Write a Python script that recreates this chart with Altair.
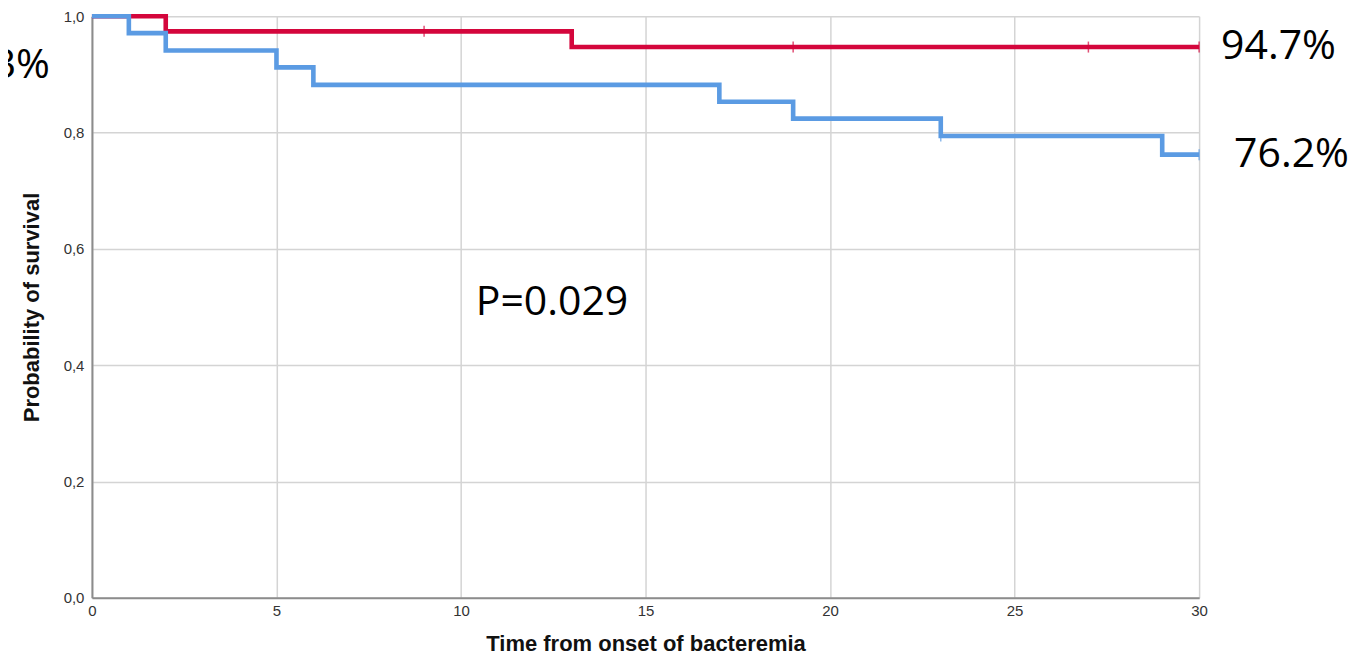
import altair as alt
import pandas as pd

# Kaplan-Meier step data (time, survival)
red_time = [0, 2, 13, 30]
red_surv = [1.0, 0.974, 0.947, 0.947]
blue_time = [0, 1, 2, 5, 6, 17, 19, 23, 29, 30]
blue_surv = [1.0, 0.971, 0.941, 0.912, 0.882, 0.853, 0.824, 0.794, 0.762, 0.762]

# censored observations
red_cens_time = [9, 19, 27, 30]
red_cens_surv = [0.974, 0.947, 0.947, 0.947]
blue_cens_time = [23, 30]
blue_cens_surv = [0.794, 0.762]

# annotations
ann_text = ["94.7%", "76.2%", "P=0.029", "88.3%"]
ann_x = [30, 30, 10.4, 0]
ann_y = [0.947, 0.762, 0.507, 0.914]
ann_dx = [22, 35, 0, -42]
ann_align = ["left", "left", "left", "right"]

x_ticks = [0, 5, 10, 15, 20, 25, 30]
y_ticks = [0.0, 0.2, 0.4, 0.6, 0.8, 1.0]

RED = "#d4063c"
BLUE = "#5b9be3"

curves = pd.concat([
    pd.DataFrame({"t": red_time, "s": red_surv, "g": "red"}),
    pd.DataFrame({"t": blue_time, "s": blue_surv, "g": "blue"}),
])
cens = pd.concat([
    pd.DataFrame({"t": red_cens_time, "s": red_cens_surv, "g": "red"}),
    pd.DataFrame({"t": blue_cens_time, "s": blue_cens_surv, "g": "blue"}),
])
ann = pd.DataFrame({"text": ann_text, "x": ann_x, "y": ann_y, "dx": ann_dx, "align": ann_align})

xscale = alt.Scale(domain=[0, 30], nice=False, zero=False)
yscale = alt.Scale(domain=[0, 1], nice=False)
color = alt.Color("g:N", scale=alt.Scale(domain=["red", "blue"], range=[RED, BLUE]), legend=None)

x_enc = alt.X("t:Q", scale=xscale, axis=alt.Axis(
    values=x_ticks, title="Time from onset of bacteremia", ticks=False, labelFlush=False,
    labelPadding=6, titlePadding=15, grid=True))
y_enc = alt.Y("s:Q", scale=yscale, axis=alt.Axis(
    values=y_ticks, title="Probability of survival", ticks=False, labelFlush=False,
    labelExpr="replace(format(datum.value, '.1f'), '.', ',')",
    labelPadding=8, titlePadding=20, grid=True))

lines = alt.Chart(curves).mark_line(interpolate="step-after", strokeWidth=4.6, clip=False).encode(
    x=x_enc, y=y_enc, color=color, detail="g:N")

ticks = alt.Chart(cens).mark_tick(orient="vertical", size=11, thickness=1.5).encode(
    x=alt.X("t:Q", scale=xscale), y=alt.Y("s:Q", scale=yscale), color=color)

text_layers = []
for i in range(len(ann_text)):
    text_layers.append(
        alt.Chart(ann.iloc[[i]]).mark_text(
            font="Open Sans", fontSize=41, color="black", align=ann_align[i],
            baseline="middle", dx=ann_dx[i]
        ).encode(x=alt.X("x:Q", scale=xscale), y=alt.Y("y:Q", scale=yscale), text="text:N")
    )

chart = alt.layer(lines, ticks, *text_layers).properties(
    width=1108, height=582,
    autosize=alt.AutoSizeParams(type="none"),
    padding={"left": 84, "top": 8, "right": 150, "bottom": 58},
).configure_view(stroke=None).configure_axis(
    domainColor="#8c8c8c", domainWidth=2, gridColor="#d4d4d4", gridWidth=1.5,
    labelFont="Liberation Sans", labelFontSize=15, labelColor="#333333",
    titleFont="Liberation Sans", titleFontSize=22, titleFontWeight="bold", titleColor="#111111",
)

chart.save("out.html", embed_options={"renderer": "svg", "actions": False})
